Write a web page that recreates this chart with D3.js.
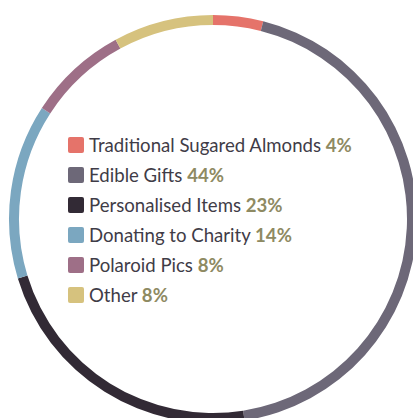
<!DOCTYPE html>
<html><head><meta charset="utf-8">
<script src="https://cdn.jsdelivr.net/npm/d3@7"></script>
<style>html,body{margin:0;padding:0;background:#fff;overflow:hidden}</style>
</head><body>
<svg id="c" width="413" height="418"></svg>
<script>
const categories = ["Traditional Sugared Almonds","Edible Gifts","Personalised Items","Donating to Charity","Polaroid Pics","Other"];
const values = [4,44,23,14,8,8];
const colors = ["#e5736a","#6d6878","#322a35","#7ba7c0","#9e6f87","#d6c27e"];

const svg = d3.select("#c");
const cx = 213, cy = 219, rOuter = 204, rInner = 194;
const pie = d3.pie().sort(null).value(d => d)(values);
const arc = d3.arc().innerRadius(rInner).outerRadius(rOuter);
const g = svg.append("g").attr("transform", `translate(${cx},${cy})`);
g.selectAll("path").data(pie).join("path")
  .attr("d", arc).attr("fill", (d,i) => colors[i]);

const y = d3.scaleBand().domain(d3.range(categories.length)).range([130, 310]);
const leg = svg.append("g");
const rows = leg.selectAll("g").data(categories).join("g")
  .attr("transform", (d,i) => `translate(68,${y(i) + y.bandwidth()/2})`);
rows.append("rect").attr("x",0).attr("y",-8).attr("width",16).attr("height",16)
  .attr("rx",2).attr("fill",(d,i)=>colors[i]);
const t = rows.append("text").attr("x",21).attr("y",6.5)
  .style("font-family","Lato, sans-serif").style("font-size","18.6px");
t.append("tspan").attr("fill","#3f3c47").text(d => d + " ");
t.append("tspan").attr("fill","#8e8a62").style("font-weight","bold").text((d,i) => values[i] + "%");
</script>
</body></html>
